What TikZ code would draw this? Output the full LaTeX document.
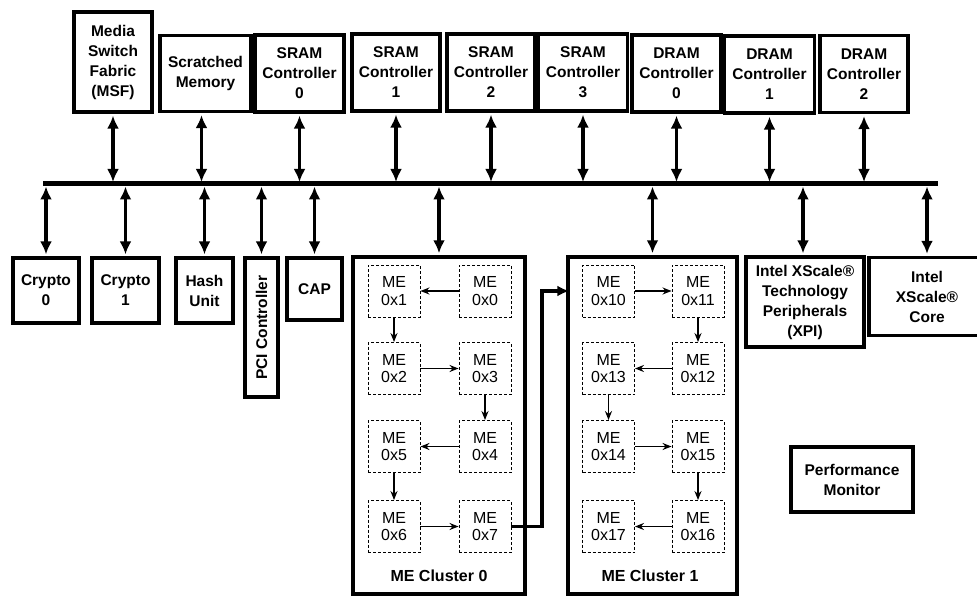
\documentclass[tikz,border=0pt]{standalone}
\usepackage{fontspec}
\setmainfont{Liberation Sans}
\usetikzlibrary{arrows.meta}
\tikzset{
  box/.style={draw, line width=3.3pt, inner sep=0pt, align=center,
    font=\bfseries\fontsize{15.5}{20}\selectfont},
  mebox/.style={draw, densely dashed, line width=0.9pt, inner sep=0pt, align=center,
    minimum width=52pt, minimum height=52pt, font=\fontsize{16}{17.5}\selectfont},
  cluster/.style={draw, line width=3.5pt, inner sep=0pt},
  bidir/.style={line width=3.4pt, {Latex[length=13pt,width=12pt]}-{Latex[length=13pt,width=12pt]}},
  thinarr/.style={line width=1.4pt, -{Stealth[length=9pt,width=7pt]}},
  bigarr/.style={line width=3.6pt, -{Latex[length=12pt,width=11pt]}},
  lbl/.style={font=\bfseries\fontsize{16}{18}\selectfont}
}
\begin{document}
\begin{tikzpicture}[x=1pt,y=-1pt]
\useasboundingbox (0,0) rectangle (977,596);
% bus
\coordinate (busL) at (43,184);
\coordinate (busR) at (938,184);
\draw[line width=5pt] (busL) -- (busR);

% top boxes
\node[box, minimum width=78pt, minimum height=100pt] (msf) at (113,62) {Media\\Switch\\Fabric\\(MSF)};
\node[box, minimum width=91pt, minimum height=76pt] (scr) at (205.5,73.5) {Scratched\\Memory};
\node[box, minimum width=89pt, minimum height=77pt] (s0) at (299.5,73.5) {SRAM\\Controller\\0};
\node[box, minimum width=88pt, minimum height=77pt] (s1) at (396,72.5) {SRAM\\Controller\\1};
\node[box, minimum width=88pt, minimum height=77pt] (s2) at (491,72.5) {SRAM\\Controller\\2};
\node[box, minimum width=89pt, minimum height=77pt] (s3) at (583,72.5) {SRAM\\Controller\\3};
\node[box, minimum width=89pt, minimum height=77pt] (d0) at (676.5,73.5) {DRAM\\Controller\\0};
\node[box, minimum width=90pt, minimum height=77pt] (d1) at (769.5,74.5) {DRAM\\Controller\\1};
\node[box, minimum width=88pt, minimum height=77pt] (d2) at (864,74) {DRAM\\Controller\\2};

\foreach \n in {msf,s0,s1,s2,s3,d0,d1,d2}
  \draw[bidir, shorten <=2pt, shorten >=2pt] (\n.south) -- (\n.south |- busL);
\draw[bidir, shorten <=2pt, shorten >=2pt] ([xshift=-4pt]scr.south) -- ([xshift=-4pt]scr.south |- busL);

% bottom boxes
\node[box, minimum width=66pt, minimum height=65pt] (c0) at (46,290.5) {Crypto\\0};
\node[box, minimum width=67pt, minimum height=65pt] (c1) at (125.5,290.5) {Crypto\\1};
\node[box, minimum width=57pt, minimum height=65pt] (hash) at (204.5,290.5) {Hash\\Unit};
\node[box, rotate=90, minimum width=139pt, minimum height=33pt] (pci) at (261.5,327.5) {PCI Controller};
\node[box, minimum width=55pt, minimum height=62pt] (cap) at (314.5,289) {CAP};
\node[box, minimum width=118pt, minimum height=90pt] (xpi) at (805,302) {Intel XScale®\\Technology\\Peripherals\\(XPI)};
\node[box, minimum width=116pt, minimum height=78pt] (core) at (927,296.5) {Intel\\XScale®\\Core};
\node[box, minimum width=122pt, minimum height=65pt] (perf) at (852,479.5) {Performance\\Monitor};

% clusters
\node[cluster, minimum width=172pt, minimum height=337pt] (cl0) at (439,425.5) {};
\node[cluster, minimum width=169pt, minimum height=337pt] (cl1) at (652.5,425.5) {};
\node[lbl] (cl0lbl) at (439,576) {ME Cluster 0};
\node[lbl] (cl1lbl) at (650,576) {ME Cluster 1};

\foreach \n in {c0,c1,hash,cap,cl0,cl1}
  \draw[bidir, shorten <=2.5pt, shorten >=2pt] (\n.north |- busL) -- (\n.north);
\draw[bidir, shorten <=2.5pt, shorten >=2pt] (pci.east |- busL) -- (pci.east);
\draw[bidir, shorten <=2.5pt, shorten >=2pt] ([xshift=-2pt]xpi.north |- busL) -- ([xshift=-2pt]xpi.north);
\draw[bidir, shorten <=2.5pt, shorten >=2pt] (core.north |- busL) -- (core.north);

% ME cluster 0
\node[mebox] (m1) at (394,291) {ME\\0x1};
\node[mebox] (m0) at (485,291) {ME\\0x0};
\node[mebox] (m2) at (394,368.5) {ME\\0x2};
\node[mebox] (m3) at (485,368.5) {ME\\0x3};
\node[mebox] (m5) at (394,446.5) {ME\\0x5};
\node[mebox] (m4) at (485,446.5) {ME\\0x4};
\node[mebox] (m6) at (394,526.5) {ME\\0x6};
\node[mebox] (m7) at (485,526.5) {ME\\0x7};
\draw[thinarr] (m0) -- (m1);
\draw[thinarr] (m1) -- (m2);
\draw[thinarr] (m2) -- (m3);
\draw[thinarr] (m3) -- (m4);
\draw[thinarr] (m4) -- (m5);
\draw[thinarr] (m5) -- (m6);
\draw[thinarr] (m6) -- (m7);

% ME cluster 1
\node[mebox] (m10) at (608.5,291) {ME\\0x10};
\node[mebox] (m11) at (698,291) {ME\\0x11};
\node[mebox] (m13) at (608.5,368.5) {ME\\0x13};
\node[mebox] (m12) at (698,368.5) {ME\\0x12};
\node[mebox] (m14) at (608.5,446.5) {ME\\0x14};
\node[mebox] (m15) at (698,446.5) {ME\\0x15};
\node[mebox] (m17) at (608.5,526.5) {ME\\0x17};
\node[mebox] (m16) at (698,526.5) {ME\\0x16};
\draw[thinarr] (m10) -- (m11);
\draw[thinarr] (m11) -- (m12);
\draw[thinarr] (m12) -- (m13);
\draw[thinarr] (m13) -- (m14);
\draw[thinarr] (m14) -- (m15);
\draw[thinarr] (m15) -- (m16);
\draw[thinarr] (m16) -- (m17);

% link cluster 0 -> cluster 1
\coordinate (jog) at (542,0);
\draw[bigarr, line join=miter] (m7.east) -| (jog |- m10) -- ([xshift=3pt]cl1.west |- m10);
\end{tikzpicture}
\end{document}
